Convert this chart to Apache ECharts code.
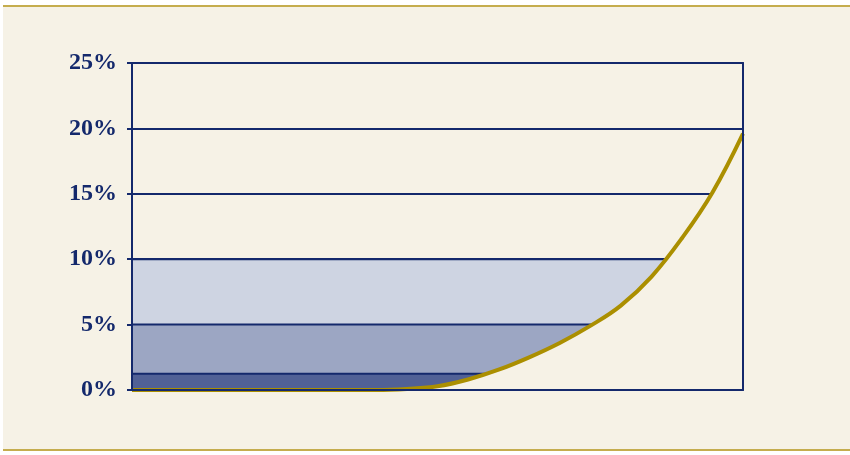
<!DOCTYPE html>
<html>
<head>
<meta charset="utf-8">
<script src="https://cdn.jsdelivr.net/npm/echarts@6/dist/echarts.min.js"></script>
<style>
  html, body { margin: 0; padding: 0; background: #ffffff; }
  #chart { width: 850px; height: 455px; }
</style>
</head>
<body>
<div id="chart"></div>
<script>
// ---- data ----
const yTicks = [0, 5, 10, 15, 20, 25];           // % tick labels
const bandLevels = [10, 5, 1.25];                // upper edges of the shaded bands (%)
const bandColors = ['#ced4e2', '#9ca6c3', '#516196'];
const curveX = [0, 40, 45, 50, 55, 60, 65, 70, 75, 80, 85, 90, 95, 100];
const curveY = [0, 0, 0.08, 0.28, 0.8, 1.55, 2.5, 3.6, 4.9, 6.45, 8.65, 11.6, 15.1, 19.6];

const NAVY = '#14296c';
const GOLD = '#ab8f00';
const CREAM = '#f6f2e6';

const curveData = curveX.map((x, i) => [x, curveY[i]]);

const series = [];
bandLevels.forEach((lv, i) => {
  series.push({
    type: 'line',
    data: [[0, lv], [100, lv]],
    symbol: 'none',
    silent: true,
    lineStyle: { color: NAVY, width: 2 },
    areaStyle: { color: bandColors[i], opacity: 1 },
    z: 2 + i
  });
});
// cover below the curve in background colour
series.push({
  type: 'line',
  data: curveData,
  symbol: 'none',
  smooth: 0.4,
  silent: true,
  lineStyle: { width: 0, opacity: 0 },
  areaStyle: { color: CREAM, opacity: 1 },
  z: 6
});
// the curve itself
series.push({
  type: 'line',
  data: curveData,
  symbol: 'none',
  smooth: 0.4,
  silent: true,
  lineStyle: { color: GOLD, width: 4 },
  z: 7
});

const chart = echarts.init(document.getElementById('chart'), null, { renderer: 'canvas' });
chart.setOption({
  animation: false,
  backgroundColor: '#ffffff',
  graphic: [
    { type: 'rect', z: -10, shape: { x: 3, y: 6, width: 847, height: 444 }, style: { fill: CREAM } },
    { type: 'line', z: -9, shape: { x1: 3, y1: 6, x2: 850, y2: 6 }, style: { stroke: '#c5ad4e', lineWidth: 2 } },
    { type: 'line', z: -9, shape: { x1: 3, y1: 450, x2: 850, y2: 450 }, style: { stroke: '#c5ad4e', lineWidth: 2 } }
  ],
  grid: { left: 132, right: 107, top: 63, bottom: 65 },
  xAxis: [
    { type: 'value', min: 0, max: 100, position: 'bottom', z: 10,
      axisLine: { show: true, onZero: false, lineStyle: { color: NAVY, width: 2 } },
      axisTick: { show: false }, axisLabel: { show: false }, splitLine: { show: false } },
    { type: 'value', min: 0, max: 100, position: 'top', z: 10,
      axisLine: { show: true, onZero: false, lineStyle: { color: NAVY, width: 2 } },
      axisTick: { show: false }, axisLabel: { show: false }, splitLine: { show: false } }
  ],
  yAxis: [
    { type: 'value', min: 0, max: 25, interval: 5, position: 'left', z: 0,
      axisLine: { show: false }, axisTick: { show: false }, axisLabel: { show: false },
      splitLine: { show: true, lineStyle: { color: NAVY, width: 2 } } },
    { type: 'value', min: 0, max: 25, interval: 5, position: 'left', z: 10,
      axisLine: { show: true, onZero: false, lineStyle: { color: NAVY, width: 2 } },
      axisTick: { show: true, inside: false, length: 5, lineStyle: { color: NAVY, width: 2 } },
      axisLabel: {
        show: true, margin: 15, color: NAVY,
        fontFamily: 'Liberation Serif',
        fontWeight: 'bold', fontSize: 24,
        formatter: v => (yTicks.indexOf(v) >= 0 ? v + '%' : '')
      },
      splitLine: { show: false } },
    { type: 'value', min: 0, max: 25, interval: 5, position: 'right', z: 10,
      axisLine: { show: true, onZero: false, lineStyle: { color: NAVY, width: 2 } },
      axisTick: { show: false }, axisLabel: { show: false }, splitLine: { show: false } }
  ],
  series: series
});
</script>
</body>
</html>
